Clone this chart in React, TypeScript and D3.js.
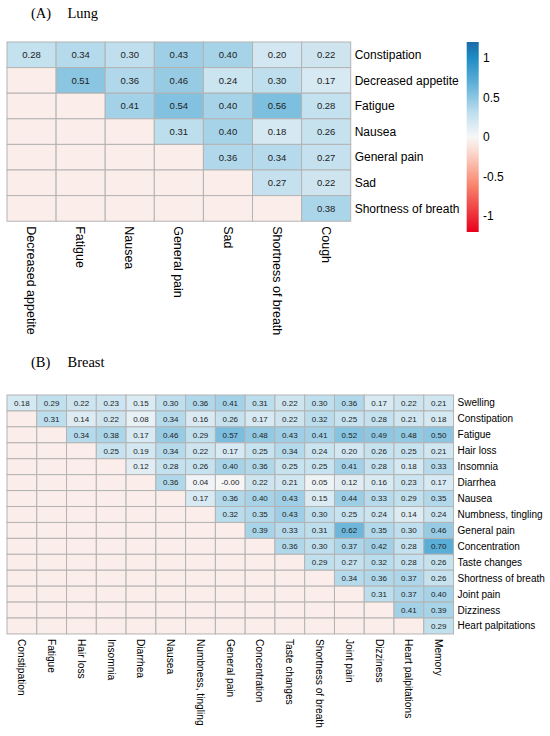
import * as d3 from 'd3';

// Panel A – lung
const lungRows = ['Constipation', 'Decreased appetite', 'Fatigue', 'Nausea', 'General pain', 'Sad', 'Shortness of breath'];
const lungCols = ['Decreased appetite', 'Fatigue', 'Nausea', 'General pain', 'Sad', 'Shortness of breath', 'Cough'];
// row i starts at column i
const lungValues = [
  [0.28, 0.34, 0.30, 0.43, 0.40, 0.20, 0.22],
  [0.51, 0.36, 0.46, 0.24, 0.30, 0.17],
  [0.41, 0.54, 0.40, 0.56, 0.28],
  [0.31, 0.40, 0.18, 0.26],
  [0.36, 0.34, 0.27],
  [0.27, 0.22],
  [0.38],
];

// Panel B – breast
const breastRows = ['Swelling', 'Constipation', 'Fatigue', 'Hair loss', 'Insomnia', 'Diarrhea', 'Nausea', 'Numbness, tingling', 'General pain', 'Concentration', 'Taste changes', 'Shortness of breath', 'Joint pain', 'Dizziness', 'Heart palpitations'];
const breastCols = ['Constipation', 'Fatigue', 'Hair loss', 'Insomnia', 'Diarrhea', 'Nausea', 'Numbness, tingling', 'General pain', 'Concentration', 'Taste changes', 'Shortness of breath', 'Joint pain', 'Dizziness', 'Heart palpitations', 'Memory'];
const breastValues = [
  [0.18, 0.29, 0.22, 0.23, 0.15, 0.30, 0.36, 0.41, 0.31, 0.22, 0.30, 0.36, 0.17, 0.22, 0.21],
  [0.31, 0.14, 0.22, 0.08, 0.34, 0.16, 0.26, 0.17, 0.22, 0.32, 0.25, 0.28, 0.21, 0.18],
  [0.34, 0.38, 0.17, 0.46, 0.29, 0.57, 0.48, 0.43, 0.41, 0.52, 0.49, 0.48, 0.50],
  [0.25, 0.19, 0.34, 0.22, 0.17, 0.25, 0.34, 0.24, 0.20, 0.26, 0.25, 0.21],
  [0.12, 0.28, 0.26, 0.40, 0.36, 0.25, 0.25, 0.41, 0.28, 0.18, 0.33],
  [0.36, 0.04, -0.004, 0.22, 0.21, 0.05, 0.12, 0.16, 0.23, 0.17],
  [0.17, 0.36, 0.40, 0.43, 0.15, 0.44, 0.33, 0.29, 0.35],
  [0.32, 0.35, 0.43, 0.30, 0.25, 0.24, 0.14, 0.24],
  [0.39, 0.33, 0.31, 0.62, 0.35, 0.30, 0.46],
  [0.36, 0.30, 0.37, 0.42, 0.28, 0.70],
  [0.29, 0.27, 0.32, 0.28, 0.26],
  [0.34, 0.36, 0.37, 0.26],
  [0.31, 0.37, 0.40],
  [0.41, 0.39],
  [0.29],
];

const legendTicks = [1, 0.5, 0, -0.5, -1];

const color = d3.scaleLinear<string>()
  .domain([-1.2, -0.6, -0.2, 0, 0.3, 0.7, 1.0, 1.2])
  .range(['#e8001c', '#f9866e', '#fbd7cc', '#f7f7f7', '#bfdfee', '#5aadd6', '#1f8cc4', '#1b6aa8'])
  .interpolate(d3.interpolateRgb);

const EMPTY = '#fbeeea';
const GRID = '#b3b3b3';
const SANS = 'Arial, "Liberation Sans", sans-serif';
const SERIF = '"Palatino Linotype", "Book Antiqua", "Liberation Serif", serif';

interface HeatProps {
  rows: string[];
  cols: string[];
  values: number[][];
  x0: number;
  y0: number;
  cellW: number;
  cellH: number;
  cellFont: number;
  labelFont: number;
  colFont: number;
}

function Heat({ rows, cols, values, x0, y0, cellW, cellH, cellFont, labelFont, colFont }: HeatProps) {
  const x = d3.scaleBand().domain(cols).range([x0, x0 + cellW * cols.length]);
  const y = d3.scaleBand().domain(rows).range([y0, y0 + cellH * rows.length]);
  const cells: JSX.Element[] = [];
  rows.forEach((r, i) => {
    cols.forEach((c, j) => {
      const v = j >= i ? values[i][j - i] : null;
      cells.push(
        <g key={`${i}-${j}`}>
          <rect x={x(c)} y={y(r)} width={x.bandwidth()} height={y.bandwidth()}
            fill={v === null ? EMPTY : color(v)} stroke={GRID} strokeWidth={1} />
          {v !== null && (
            <text x={x(c)! + x.bandwidth() / 2} y={y(r)! + y.bandwidth() / 2} dy="0.35em"
              textAnchor="middle" fontSize={cellFont} fill="#222" fontFamily={SANS}>
              {v.toFixed(2)}
            </text>
          )}
        </g>
      );
    });
  });
  const right = x0 + cellW * cols.length;
  const bottom = y0 + cellH * rows.length;
  return (
    <g>
      {cells}
      {rows.map(r => (
        <text key={r} x={right + 4} y={y(r)! + y.bandwidth() / 2} dy="0.35em"
          fontSize={labelFont} fontFamily={SANS} fill="#000">{r}</text>
      ))}
      {cols.map(c => (
        <text key={c} transform={`translate(${x(c)! + x.bandwidth() / 2},${bottom + 5}) rotate(90)`}
          dy="0.35em" fontSize={colFont} fontFamily={SANS} fill="#000">{c}</text>
      ))}
    </g>
  );
}

export default function App() {
  // legend for panel A
  const legY = d3.scaleLinear().domain([1.2, -1.2]).range([42, 232]);
  const stops = d3.range(-1.2, 1.2001, 0.1);
  return (
    <svg width={550} height={736} style={{ position: 'absolute', left: 0, top: 0, background: '#fff' }}>
      <text x={31} y={18} fontSize={14.5} fontFamily={SERIF}>(A)</text>
      <text x={67.5} y={18} fontSize={14.5} fontFamily={SERIF}>Lung</text>
      <Heat rows={lungRows} cols={lungCols} values={lungValues}
        x0={7} y0={42} cellW={49.1} cellH={25.6} cellFont={9.5} labelFont={12} colFont={12.5} />

      <defs>
        <linearGradient id="leg" x1="0" y1="1" x2="0" y2="0">
          {stops.map(s => (
            <stop key={s} offset={(s + 1.2) / 2.4} stopColor={color(s)} />
          ))}
        </linearGradient>
      </defs>
      <rect x={466.7} y={legY(1.2)} width={12} height={legY(-1.2) - legY(1.2)} fill="url(#leg)" />
      {legendTicks.map(t => (
        <text key={t} x={483} y={legY(t)} dy="0.35em" fontSize={12} fontFamily={SANS}>{t}</text>
      ))}

      <text x={31} y={367} fontSize={14.5} fontFamily={SERIF}>(B)</text>
      <text x={67.5} y={367} fontSize={14.5} fontFamily={SERIF}>Breast</text>
      <Heat rows={breastRows} cols={breastCols} values={breastValues}
        x0={7} y0={395} cellW={29.77} cellH={15.93} cellFont={8} labelFont={10} colFont={10.2} />
    </svg>
  );
}
